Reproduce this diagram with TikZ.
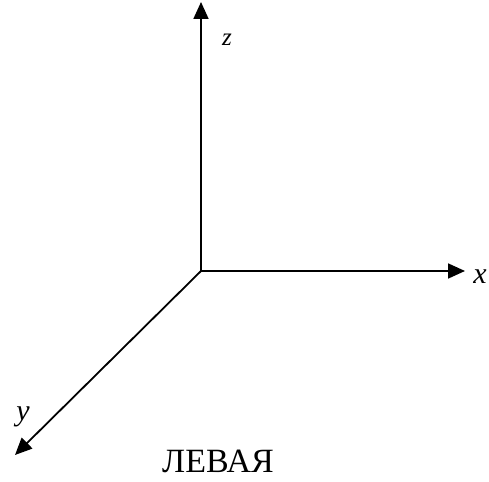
\documentclass[tikz,border=0pt]{standalone}
\usepackage{fontspec}
\setmainfont{Liberation Serif}
\usetikzlibrary{arrows.meta}

\tikzset{
  axis/.style={line width=1.8pt,-{Triangle[length=17pt,width=15pt]}},
  axlabel/.style={font=\fontsize{30}{34}\selectfont\itshape},
}

\begin{document}
\begin{tikzpicture}[x=1pt,y=1pt]
\useasboundingbox (0,0) rectangle (489,481);
% axes
\coordinate (O) at (201,210);
\coordinate (xtip) at (465,210);
\coordinate (ztip) at (201,479);
\coordinate (ytip) at (15,26);
\draw[axis] (O) -- (xtip);
\draw[axis] (O) -- (ztip);
\draw[axis] (O) -- (ytip);
% labels
\node[axlabel,font=\fontsize{25}{28}\selectfont\itshape] (zlab) at (227,441) {z};
\node[axlabel] (xlab) at (480,204) {x};
\node[axlabel] (ylab) at (23,64) {y};
\node[font=\fontsize{34}{38}\selectfont,inner sep=0pt] (title) at (218,20) {ЛЕВАЯ};
\end{tikzpicture}
\end{document}
